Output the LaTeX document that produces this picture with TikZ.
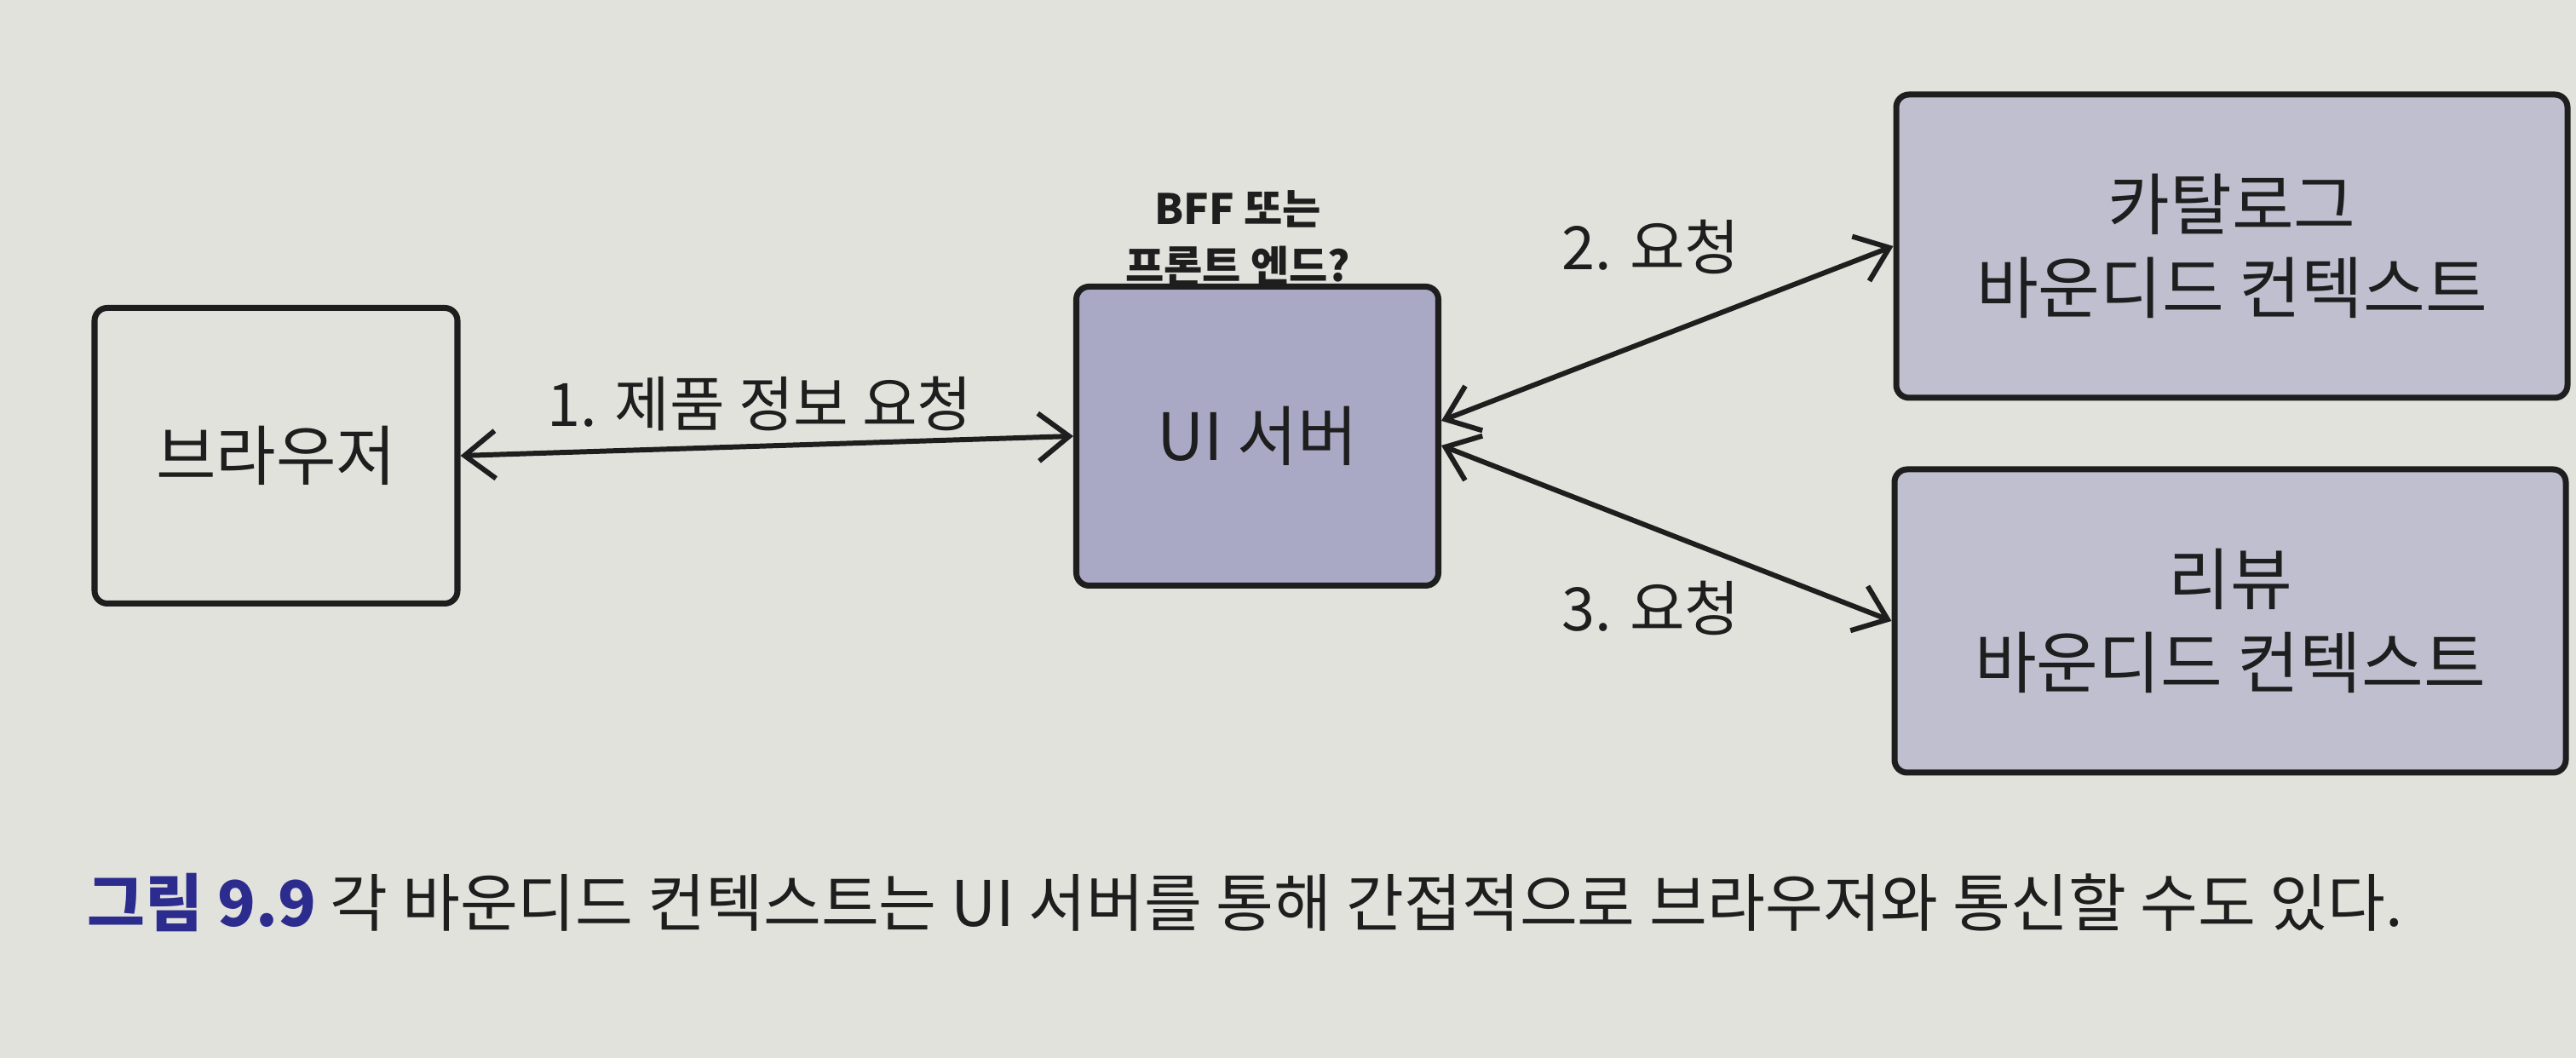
\documentclass[tikz,border=0pt]{standalone}
\usepackage{fontspec}
\setmainfont{Noto Sans CJK KR}
\usetikzlibrary{arrows.meta}
\definecolor{paper}{HTML}{E2E2DD}
\definecolor{ink}{HTML}{1E1E1E}
\definecolor{srvfill}{HTML}{A9A9C6}
\definecolor{ctxfill}{HTML}{BFBFD0}
\definecolor{figblue}{HTML}{2C2C8E}
\tikzset{
  anybox/.style={draw=ink, line width=2pt, rounded corners=0.15cm, inner sep=0pt,
    align=center, text=ink, font=\fontsize{21.8}{28}\selectfont},
  plainbox/.style={anybox, minimum width=4.26cm, minimum height=3.47cm},
  srvbox/.style={anybox, fill=srvfill, minimum width=4.25cm, minimum height=3.51cm},
  ctxbox/.style={anybox, fill=ctxfill, minimum width=7.88cm, minimum height=3.56cm,
    font=\fontsize{22.5}{28}\selectfont},
  conn/.style={{Straight Barb[length=3.6mm,width=5.6mm]}-{Straight Barb[length=3.6mm,width=5.6mm]},
    line width=1.7pt, draw=ink},
  msg/.style={text=ink, font=\fontsize{20}{24}\selectfont},
  note/.style={text=ink, align=center, font=\bfseries\fontsize{14}{19}\selectfont}
}
\begin{document}
\begin{tikzpicture}
\fill[paper] (0,0) rectangle (30.24,12.42);
\useasboundingbox (0,0) rectangle (30.24,12.42);
% boxes
\node[plainbox] (browser) at (3.24,7.07) {브라우저};
\node[srvbox] (ui) at (14.76,7.30) {UI 서버};
\node[ctxbox] (catalog) at (26.20,9.53) {카탈로그\\바운디드 컨텍스트};
\node[ctxbox] (review) at (26.18,5.13) {리뷰\\바운디드 컨텍스트};
\node[note] (bff) at (14.53,9.62) {BFF 또는\\프론트 엔드?};
% requests
\draw[conn] (browser.east) -- (ui.west);
\draw[conn] ([yshift=1.8mm]ui.east) -- (catalog.west);
\draw[conn] ([yshift=-1.1mm]ui.east) -- (review.west);
\node[msg] (req1) at (8.92,7.68) {1. 제품 정보 요청};
\node[msg] (req2) at (19.38,9.52) {2. 요청};
\node[msg] (req3) at (19.38,5.28) {3. 요청};
% caption
\node[anchor=west, text=ink, font=\fontsize{21}{25}\selectfont, inner sep=0pt] (cap) at (1.02,1.82)
  {{\bfseries\color{figblue}그림 9.9} 각 바운디드 컨텍스트는 UI 서버를 통해 간접적으로 브라우저와 통신할 수도 있다.};
\end{tikzpicture}
\end{document}
